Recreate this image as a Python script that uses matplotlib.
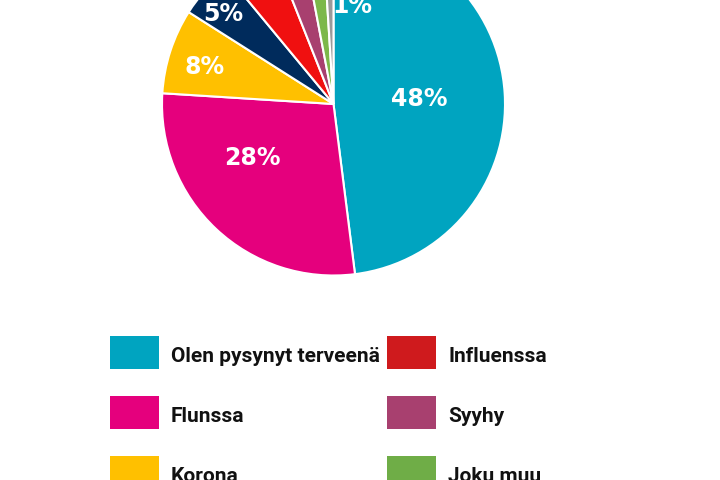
import matplotlib
matplotlib.use("Agg")
import matplotlib.pyplot as plt
import matplotlib.patches as mpatches
import numpy as np

# data
labels = [
    "Olen pysynyt terveenä",
    "Flunssa",
    "Korona",
    "Vatsatauti",
    "Influenssa",
    "Syyhy",
    "Joku muu",
    "En osaa sanoa",
]
values = [48, 28, 8, 5, 5, 3, 2, 1]
pct_text = ["48%", "28%", "8%", "5%", "", "", "", "1%"]

colors = ["#00a4c0", "#e5007d", "#ffc000", "#002b5c", "#f01010", "#a8406f", "#7cb84a", "#9a9a9a"]
legend_colors = ["#00a4c0", "#e5007d", "#ffc000", "#002b5c", "#cf1a1d", "#a8406f", "#6fad47", "#9a9a9a"]

# label placement (radius as fraction of R, clockwise shift in degrees)
label_r = [0.50, 0.57, 0.78, 0.83, 0.8, 0.8, 0.8, 0.58]
label_shift = [0, 13, -2, -2, 0, 0, 0, 12.5]

W, H = 720, 480
fig = plt.figure(figsize=(W / 100, H / 100), dpi=100)
fig.patch.set_facecolor("white")

cx, cy, R = 333.5, 104, 171.5
ax = fig.add_axes([(cx - R) / W, (H - cy - R) / H, 2 * R / W, 2 * R / H])
wedges, _ = ax.pie(
    values,
    colors=colors,
    startangle=90,
    counterclock=False,
    wedgeprops=dict(edgecolor="white", linewidth=1.5),
)
ax.set_xlim(-1, 1)
ax.set_ylim(-1, 1)

for w, txt, r, sh in zip(wedges, pct_text, label_r, label_shift):
    if not txt:
        continue
    ang = np.deg2rad((w.theta1 + w.theta2) / 2 - sh)
    ax.text(r * np.cos(ang), r * np.sin(ang), txt, ha="center", va="center",
            color="white", fontsize=17, fontweight="bold", family="DejaVu Sans",
            clip_on=False)

# legend, drawn in pixel space, column-major, 4 rows x 2 cols
lax = fig.add_axes([0, 0, 1, 1])
lax.set_xlim(0, W)
lax.set_ylim(H, 0)
lax.axis("off")

n_rows = 4
col_x = [110, 387]
row_y0, row_step = 336, 60
box_w, box_h = 49, 33
for k, (lab, col) in enumerate(zip(labels, legend_colors)):
    c, rr = divmod(k, n_rows)
    x = col_x[c]
    y = row_y0 + rr * row_step
    if y > H:
        continue
    lax.add_patch(mpatches.Rectangle((x, y), box_w, box_h, facecolor=col, edgecolor="none"))
    lax.text(x + box_w + 12, y + box_h / 2 + 4, lab, ha="left", va="center",
             fontsize=15, fontweight="bold", family="Roboto", color="#111111")

fig.savefig("out.png", dpi=100, facecolor="white")
